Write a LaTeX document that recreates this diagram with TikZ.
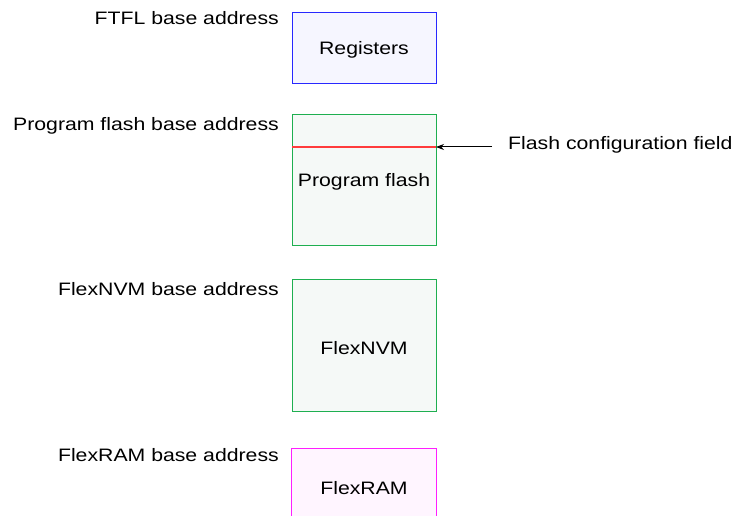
\documentclass[tikz,border=0pt]{standalone}
\usepackage{fontspec}
\setmainfont{Liberation Sans}[FakeStretch=1.18]
\usepackage{tikz}
\usetikzlibrary{arrows.meta,positioning}

\definecolor{regblue}{RGB}{40,40,255}
\definecolor{regfill}{RGB}{246,246,255}
\definecolor{flgreen}{RGB}{30,175,80}
\definecolor{flfill}{RGB}{245,249,247}
\definecolor{rammag}{RGB}{255,30,255}
\definecolor{ramfill}{RGB}{255,245,255}
\definecolor{cfgred}{RGB}{255,60,60}

\begin{document}
\begin{tikzpicture}[x=1pt,y=-1pt,font=\fontsize{18}{21}\selectfont,
  block/.style={minimum width=144pt,inner sep=0pt,line width=1pt},
  blocktext/.style={anchor=base,inner sep=0pt},
  addr/.style={anchor=base east,inner sep=0pt}]
\useasboundingbox (0,0) rectangle (732,516);
\clip (0,0) rectangle (732,516);

\node[block,draw=regblue,fill=regfill,minimum height=71pt] (reg) at (364,48.5){};
\node[blocktext] (regtxt) at (364,55){Registers};
\node[block,draw=flgreen,fill=flfill,minimum height=131pt] (pflash) at (364,180.5){};
\node[blocktext] (pflashtxt) at (364,187){Program flash};
\node[block,draw=flgreen,fill=flfill,minimum height=131pt] (nvm) at (364,345.5){};
\node[blocktext] (nvmtxt) at (364,355){FlexNVM};
\node[block,fill=ramfill,minimum height=76pt] (ram) at (364,487){};
\node[blocktext] (ramtxt) at (364,494){FlexRAM};
\draw[rammag,line width=1pt] (ram.south west) -- (ram.north west) -- (ram.north east) -- (ram.south east);

\node[addr] (a1) at (279,25){FTFL base address};
\node[addr] (a2) at (279,131){Program flash base address};
\node[addr] (a3) at (279,296){FlexNVM base address};
\node[addr] (a4) at (279,461){FlexRAM base address};

\coordinate (cfgl) at (292,147);
\coordinate (cfgr) at (436,147);
\draw[cfgred,line width=1.1pt] (cfgl) -- (cfgr);
\node[anchor=base west,inner sep=0pt] (cfg) at (508,150){Flash configuration field};
\coordinate (cfgtail) at (492,147);
\draw[-{Stealth[length=8pt,width=6pt]},line width=1pt] (cfgtail) -- (cfgr);

\end{tikzpicture}
\end{document}
